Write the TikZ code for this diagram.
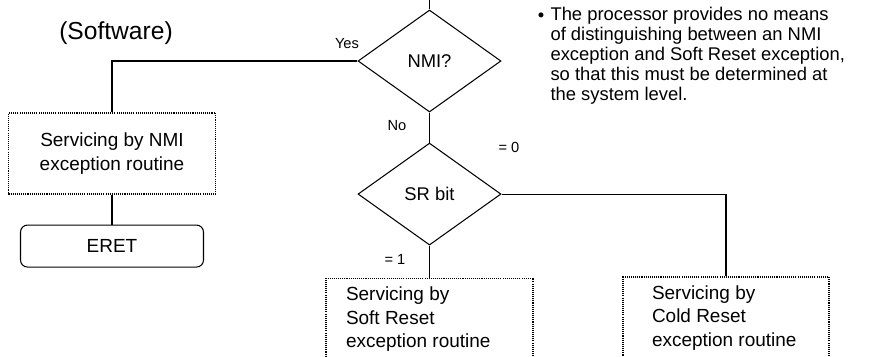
\documentclass[tikz,border=0pt]{standalone}
\usepackage{fontspec}
\setmainfont{Liberation Sans}
\usetikzlibrary{positioning,shapes.geometric}

\begin{document}
\begin{tikzpicture}[x=0.03cm, y=-0.03cm, line width=0.9pt,
    decision/.style={draw, diamond, inner sep=0pt, minimum width=4.29cm, minimum height=3.06cm, font=\fontsize{15.7}{18}\selectfont},
    srvbox/.style={draw, dash pattern=on 0.9pt off 0.9pt, inner sep=0pt, minimum height=2.46cm},
    boxtext/.style={inner sep=0pt, align=left, font=\fontsize{16.2}{20}\selectfont},
    lbl/.style={inner sep=0pt, font=\fontsize{12.5}{14}\selectfont}]
  \useasboundingbox (0,0) rectangle (895,356);
  \clip (0,0) rectangle (895,356);

  % decisions
  \coordinate (entry) at (429.5,-5);
  \node[decision] (nmi) at (429.5,61) {NMI?};
  \node[decision, below=0.9cm of nmi] (sr) {SR bit};

  % NMI branch
  \node[srvbox, minimum width=6.21cm, minimum height=2.43cm, align=center, font=\fontsize{16.2}{20}\selectfont] (nmibox) at (112,153.5) {Servicing by NMI\\exception routine};
  \node[draw, rounded corners=6pt, below=0.9cm of nmibox, minimum width=5.49cm, minimum height=1.26cm, font=\fontsize{16.2}{20}\selectfont] (eret) {ERET};

  % reset branches
  \node[srvbox, minimum width=6.21cm, below=0.96cm of sr] (soft) {};
  \node[boxtext, anchor=west] (softtxt) at ([xshift=0.6cm]soft.west) {Servicing by\\Soft Reset\\exception routine};
  \node[srvbox, minimum width=6.18cm] (cold) at (726,318) {};
  \node[boxtext, anchor=west] (coldtxt) at ([xshift=0.87cm]cold.west) {Servicing by\\Cold Reset\\exception routine};

  % connectors
  \draw (entry) -- (nmi.north);
  \draw (nmi.west) -| (nmibox.north);
  \draw (nmibox) -- (eret);
  \draw (nmi.south) -- (sr.north);
  \draw (sr.south) -- (soft.north);
  \draw (sr.east) -| (cold.north);

  % labels
  \node[lbl] (yes) at (347,44) {Yes};
  \node[lbl] (no) at (397,126) {No};
  \node[lbl] (zero) at (509,147) {= 0};
  \node[lbl] (one) at (395,259) {= 1};
  \node[font=\fontsize{21}{24}\selectfont, inner sep=0pt] (sw) at (116,33) {(Software)};

  % note
  \node[inner sep=0pt, font=\fontsize{15.7}{17}\selectfont] (bul) at (541,17) {\textbullet};
  \node[inner sep=0pt, anchor=north west, align=left, font=\fontsize{15.7}{17}\selectfont] (note) at (550,7) {The processor provides no means\\of distinguishing between an NMI\\exception and Soft Reset exception,\\so that this must be determined at\\the system level.};
\end{tikzpicture}
\end{document}
